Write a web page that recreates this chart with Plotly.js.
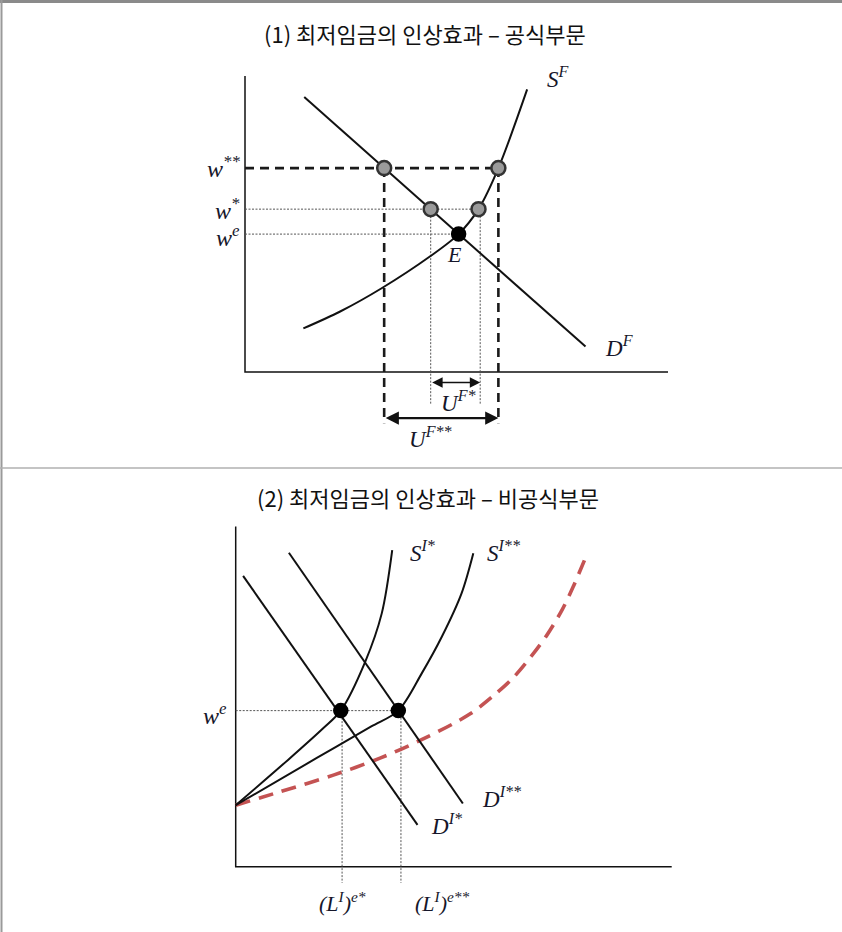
<!DOCTYPE html>
<html>
<head>
<meta charset="utf-8">
<script src="https://cdn.plot.ly/plotly-3.0.1.min.js"></script>
<style>html,body{margin:0;padding:0;background:#fff;}#chart{width:842px;height:932px;}</style>
</head>
<body>
<div id="chart"></div>
<script>
// ---------- titles ----------
const TITLE_1 = "(1) 최저임금의 인상효과 – 공식부문";
const TITLE_2 = "(2) 최저임금의 인상효과 – 비공식부문";

// ---------- Panel 1 : formal sector ----------
const P1_AXIS_X = [0, 0, 10];
const P1_AXIS_Y = [7, 0, 0];

const P1_DF_X = [1.4, 8.05];
const P1_DF_Y = [6.5, 0.6];

const P1_SF_X = [1.38, 2.25, 3.23, 4.37, 5.05, 5.52, 5.99, 6.67];
const P1_SF_Y = [1.03, 1.43, 1.98, 2.73, 3.26, 3.85, 4.82, 6.68];

// wage levels
const W_E = 3.26, W_STAR = 3.85, W_2STAR = 4.82;
// quantities
const Q_E = 5.05;
const QD_STAR = 4.39, QS_STAR = 5.52, QS_STAR_GUIDE = 5.56;
const QD_2STAR = 3.29, QS_2STAR = 5.99;
// below-axis levels
const DASH_BOTTOM = -1.21, DOT_BOTTOM = -0.76;
const ARROW1_Y = -0.25, ARROW2_Y = -1.09;

const P1_LABELS = ["S<sup>F</sup>", "D<sup>F</sup>", "E", "U<sup>F*</sup>", "U<sup>F**</sup>"];
const P1_WAGE_LABELS = ["w<sup>**</sup>", "w<sup>*</sup>", "w<sup>e</sup>"];

// ---------- Panel 2 : informal sector ----------
const P2_AXIS_X = [0, 0, 10];
const P2_AXIS_Y = [7.8, 0, 0];

const P2_D1_X = [0.17, 4.17];
const P2_D1_Y = [6.67, 0.96];
const P2_D2_X = [1.22, 5.21];
const P2_D2_Y = [7.20, 1.45];

const P2_S1_X = [0, 1.2, 2.0, 2.41, 2.97, 3.35, 3.59];
const P2_S1_Y = [1.41, 2.45, 3.17, 3.58, 4.70, 5.81, 7.26];
const P2_S2_X = [0, 1.87, 3.1, 3.73, 4.27, 4.73, 5.18, 5.45];
const P2_S2_Y = [1.41, 2.50, 3.21, 3.58, 4.44, 5.28, 6.27, 7.19];

const P2_RED_X = [0, 1.02, 2.24, 3.31, 4.30, 5.37, 5.91, 6.37, 6.79, 7.13, 7.48, 7.74, 8.05];
const P2_RED_Y = [1.41, 1.72, 2.10, 2.49, 2.93, 3.50, 3.92, 4.34, 4.84, 5.30, 5.88, 6.42, 7.15];

const P2_WE = 3.58;
const P2_EQ_X = [2.41, 3.73];
const P2_GUIDE_X = [2.44, 3.79];
const P2_GUIDE_BOTTOM = -0.37;

const P2_LABELS = ["S<sup>I*</sup>", "S<sup>I**</sup>", "D<sup>I**</sup>", "D<sup>I*</sup>"];
const P2_Q_LABELS = ["(L<sup>I</sup>)<sup>e*</sup>", "(L<sup>I</sup>)<sup>e**</sup>"];
const P2_WAGE_LABEL = "w<sup>e</sup>";

// ---------- styles ----------
const BLACK = "#111111";
const LABEL_COLOR = "#16162a";
const CURVE = {color: BLACK, width: 2};
const THICK_DASH = {color: "#1a1a1a", width: 2.6, dash: "9px,6px"};
const THIN_DOT = {color: "#555555", width: 1, dash: "2px,1.5px"};
const RED_DASH = {color: "#c45353", width: 3.6, dash: "15px,9px"};
const SERIF = "Liberation Serif, DejaVu Serif, serif";

function line(x, y, style, xa, ya, shape) {
  return {type: "scatter", mode: "lines", x: x, y: y, xaxis: xa, yaxis: ya,
          line: Object.assign({shape: shape || "linear", smoothing: 0.9}, style),
          hoverinfo: "skip"};
}
function pts(x, y, xa, ya, fill, outline, size) {
  return {type: "scatter", mode: "markers", x: x, y: y, xaxis: xa, yaxis: ya,
          marker: {size: size, color: fill, line: {color: outline, width: 2.5}}, hoverinfo: "skip"};
}

const traces = [];
// panel 1 axes
traces.push(line(P1_AXIS_X, P1_AXIS_Y, {color: BLACK, width: 1.5}, "x", "y"));
// guide lines
traces.push(line([0, QS_2STAR], [W_2STAR, W_2STAR], THICK_DASH, "x", "y"));
traces.push(line([QD_2STAR, QD_2STAR], [W_2STAR, DASH_BOTTOM], THICK_DASH, "x", "y"));
traces.push(line([QS_2STAR, QS_2STAR], [W_2STAR, DASH_BOTTOM], THICK_DASH, "x", "y"));
traces.push(line([0, QS_STAR], [W_STAR, W_STAR], THIN_DOT, "x", "y"));
traces.push(line([0, Q_E], [W_E, W_E], THIN_DOT, "x", "y"));
traces.push(line([QD_STAR, QD_STAR], [W_STAR, DOT_BOTTOM], THIN_DOT, "x", "y"));
traces.push(line([QS_STAR_GUIDE, QS_STAR_GUIDE], [W_STAR, DOT_BOTTOM], THIN_DOT, "x", "y"));
// curves
traces.push(line(P1_DF_X, P1_DF_Y, CURVE, "x", "y"));
traces.push(line(P1_SF_X, P1_SF_Y, CURVE, "x", "y", "spline"));
// points
traces.push(pts([QD_2STAR, QS_2STAR, QD_STAR, QS_STAR], [W_2STAR, W_2STAR, W_STAR, W_STAR], "x", "y", "#9a9a9a", "#333333", 14));
traces.push(pts([Q_E], [W_E], "x", "y", "#000000", "#000000", 13));

// panel 2 axes
traces.push(line(P2_AXIS_X, P2_AXIS_Y, {color: BLACK, width: 1.5}, "x2", "y2"));
traces.push(line([0, P2_GUIDE_X[1]], [P2_WE, P2_WE], THIN_DOT, "x2", "y2"));
traces.push(line([P2_GUIDE_X[0], P2_GUIDE_X[0]], [P2_WE, P2_GUIDE_BOTTOM], THIN_DOT, "x2", "y2"));
traces.push(line([P2_GUIDE_X[1], P2_GUIDE_X[1]], [P2_WE, P2_GUIDE_BOTTOM], THIN_DOT, "x2", "y2"));
traces.push(line(P2_RED_X, P2_RED_Y, RED_DASH, "x2", "y2", "spline"));
traces.push(line(P2_D1_X, P2_D1_Y, CURVE, "x2", "y2"));
traces.push(line(P2_D2_X, P2_D2_Y, CURVE, "x2", "y2"));
traces.push(line(P2_S1_X, P2_S1_Y, CURVE, "x2", "y2", "spline"));
traces.push(line(P2_S2_X, P2_S2_Y, CURVE, "x2", "y2", "spline"));
traces.push(pts(P2_EQ_X, [P2_WE, P2_WE], "x2", "y2", "#000000", "#000000", 13));

function lab(text, x, y, xa, ya, size, xanchor) {
  return {text: "<i>" + text + "</i>", x: x, y: y, xref: xa, yref: ya, showarrow: false,
          xanchor: xanchor || "center", yanchor: "middle",
          font: {family: SERIF, size: size || 23, color: LABEL_COLOR}};
}
const TITLE_FONT = {family: "Noto Sans CJK KR", size: 22, color: "#111", weight: "normal"};
const annotations = [
  {text: TITLE_1, xref: "paper", yref: "paper", x: 0.505, y: 1 - 33 / 932, showarrow: false,
   xanchor: "center", yanchor: "middle", font: TITLE_FONT},
  {text: TITLE_2, xref: "paper", yref: "paper", x: 0.508, y: 1 - 497 / 932, showarrow: false,
   xanchor: "center", yanchor: "middle", font: TITLE_FONT},
  lab(P1_LABELS[0], 7.4, 6.97, "x", "y"),
  lab(P1_LABELS[1], 8.85, 0.6, "x", "y"),
  lab(P1_LABELS[2], 4.96, 2.77, "x", "y", 22),
  lab(P1_LABELS[3], 5.05, -0.7, "x", "y"),
  lab(P1_LABELS[4], 4.4, -1.55, "x", "y"),
  lab(P1_WAGE_LABELS[0], -0.08, 4.85, "x", "y", 24, "right"),
  lab(P1_WAGE_LABELS[1], -0.08, 3.86, "x", "y", 24, "right"),
  lab(P1_WAGE_LABELS[2], -0.08, 3.22, "x", "y", 24, "right"),
  // arrows
  {x: QS_STAR_GUIDE, y: ARROW1_Y, ax: QD_STAR, ay: ARROW1_Y, xref: "x", yref: "y", axref: "x", ayref: "y",
   text: "", showarrow: true, arrowhead: 2, startarrowhead: 2, arrowside: "end+start", arrowwidth: 1.6, arrowsize: 1.3, startarrowsize: 1.3, arrowcolor: BLACK},
  {x: QS_2STAR, y: ARROW2_Y, ax: QD_2STAR, ay: ARROW2_Y, xref: "x", yref: "y", axref: "x", ayref: "y",
   text: "", showarrow: true, arrowhead: 2, startarrowhead: 2, arrowside: "end+start", arrowwidth: 2.4, arrowsize: 1.1, startarrowsize: 1.1, arrowcolor: BLACK},
  lab(P2_LABELS[0], 4.3, 7.22, "x2", "y2"),
  lab(P2_LABELS[1], 6.15, 7.22, "x2", "y2"),
  lab(P2_LABELS[2], 6.1, 1.58, "x2", "y2"),
  lab(P2_LABELS[3], 4.85, 0.96, "x2", "y2"),
  lab(P2_WAGE_LABEL, -0.15, 3.5, "x2", "y2", 24, "right"),
  lab(P2_Q_LABELS[0], 2.45, -0.8, "x2", "y2", 22),
  lab(P2_Q_LABELS[1], 4.75, -0.8, "x2", "y2", 22)
];

const shapes = [
  {type: "line", xref: "paper", yref: "paper", x0: 0, x1: 1, y0: 1 - 1.5 / 932, y1: 1 - 1.5 / 932, line: {color: "#8a8a8a", width: 3}},
  {type: "line", xref: "paper", yref: "paper", x0: 1.5 / 842, x1: 1.5 / 842, y0: 0, y1: 1, line: {color: "#9a9a9a", width: 2}},
  {type: "line", xref: "paper", yref: "paper", x0: 0, x1: 1, y0: 1 - 468 / 932, y1: 1 - 468 / 932, line: {color: "#b0b0b0", width: 1.5}}
];

const hidden = {visible: false, fixedrange: true, showgrid: false, zeroline: false};
const layout = {
  width: 842, height: 932,
  margin: {l: 0, r: 0, t: 0, b: 0},
  paper_bgcolor: "#ffffff", plot_bgcolor: "rgba(0,0,0,0)",
  showlegend: false,
  xaxis: Object.assign({range: [-245 / 42.3, (842 - 245) / 42.3], domain: [0, 1], anchor: "y"}, hidden),
  yaxis: Object.assign({range: [(372 - 467) / 42.3, 372 / 42.3], domain: [1 - 467 / 932, 1], anchor: "x"}, hidden),
  xaxis2: Object.assign({range: [-235.7 / 43.6, (842 - 235.7) / 43.6], domain: [0, 1], anchor: "y2"}, hidden),
  yaxis2: Object.assign({range: [(866.7 - 932) / 43.6, (866.7 - 467) / 43.6], domain: [0, 1 - 467 / 932], anchor: "x2"}, hidden),
  annotations: annotations,
  shapes: shapes
};
Plotly.newPlot("chart", traces, layout, {displayModeBar: false, staticPlot: true});
</script>
</body>
</html>
